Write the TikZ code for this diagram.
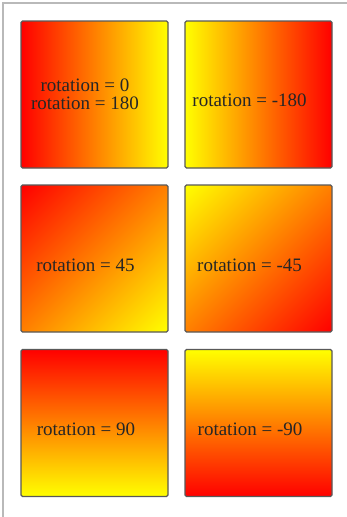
\documentclass[tikz,border=0pt]{standalone}
\usepackage{fontspec}
\setmainfont{Liberation Serif}
\pgfdeclareverticalshading{diagRY}{100bp}{color(0bp)=(yellow); color(14.64bp)=(yellow); color(85.36bp)=(red); color(100bp)=(red)}
\pgfdeclareverticalshading{diagYR}{100bp}{color(0bp)=(red); color(14.64bp)=(red); color(85.36bp)=(yellow); color(100bp)=(yellow)}
\begin{document}
\begin{tikzpicture}[x=1pt,y=-1pt,
  gbox/.style={draw=black!65, line width=1.3pt, rounded corners=1.5pt, minimum width=147pt, minimum height=147pt, inner sep=0pt},
  lbl/.style={text=black!85, font=\fontsize{19}{18}\selectfont, align=center, inner sep=0pt},
  frameline/.style={draw=gray!55, line width=1.2pt}]
\useasboundingbox (0,0) rectangle (347,517);
\fill[white] (0,0) rectangle (347,517);
\coordinate (fa) at (3,517);
\coordinate (fb) at (3,3);
\coordinate (fc) at (347,3);
\draw[frameline] (fa) -- (fb) -- (fc);
% row 1
\node[gbox, left color=red, right color=yellow] (b1) at (94.5,94.5) {};
\node[gbox, left color=yellow, right color=red] (b2) at (258.5,94.5) {};
% row 2
\node[gbox, shading=diagRY, shading angle=45] (b3) at (94.5,258.5) {};
\node[gbox, shading=diagYR, shading angle=45] (b4) at (258.5,258.5) {};
% row 3
\node[gbox, top color=red, bottom color=yellow] (b5) at (94.5,423) {};
\node[gbox, top color=yellow, bottom color=red] (b6) at (258.5,423) {};
% labels
\node[lbl] (t1) at (85,94) {rotation = 0\\rotation = 180};
\node[lbl] (t2) at (249.5,100) {rotation = -180};
\node[lbl] (t3) at (85.5,265) {rotation = 45};
\node[lbl] (t4) at (249.5,265) {rotation = -45};
\node[lbl] (t5) at (86,429) {rotation = 90};
\node[lbl] (t6) at (250,429) {rotation = -90};
\end{tikzpicture}
\end{document}
